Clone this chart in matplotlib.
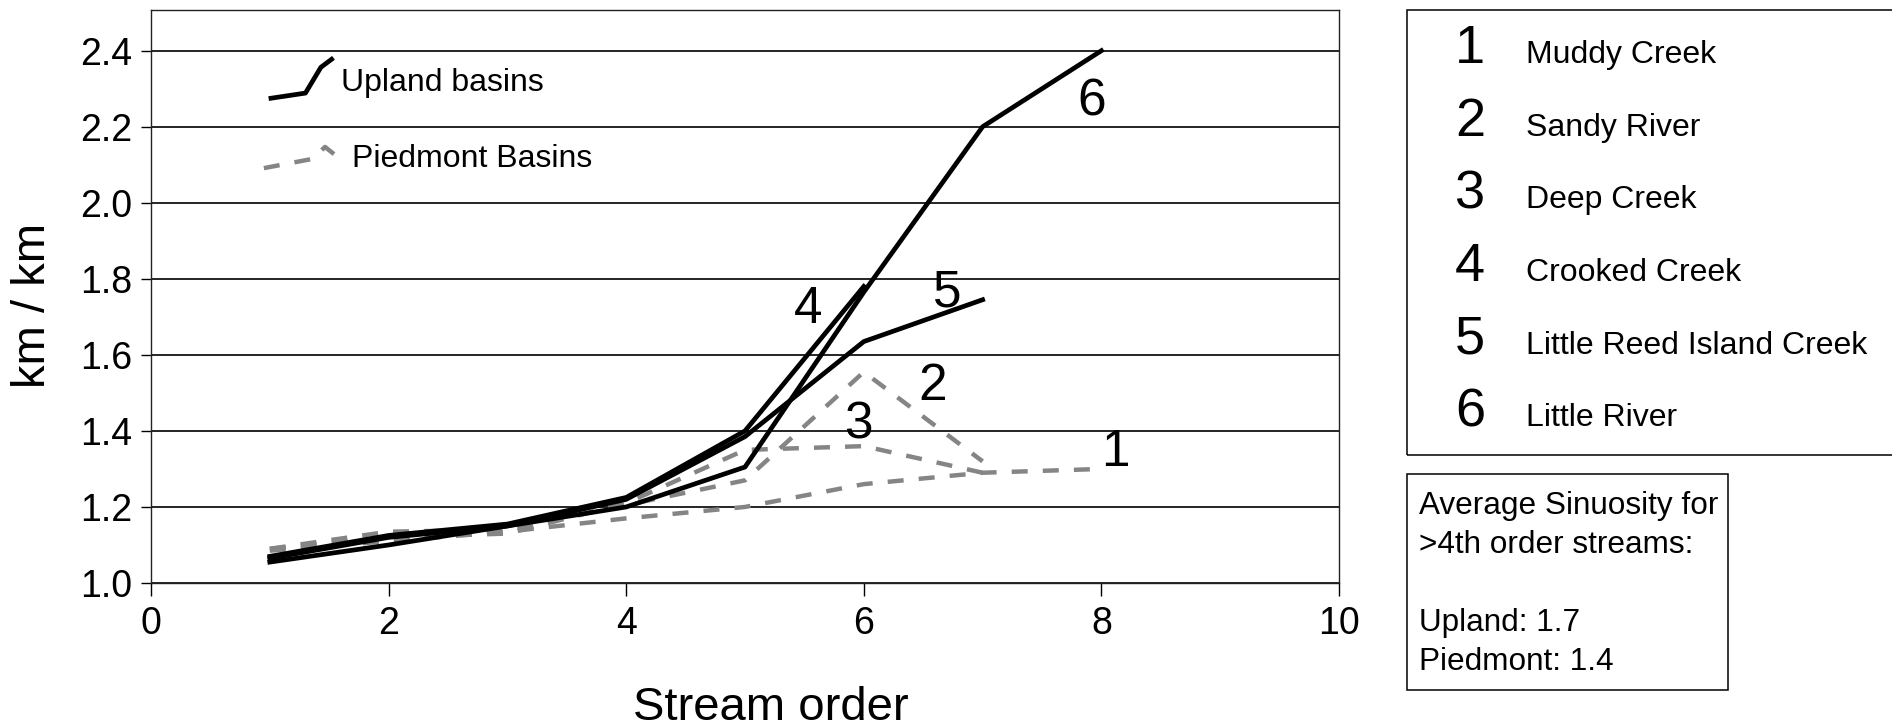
import matplotlib
matplotlib.use("Agg")
import matplotlib.pyplot as plt
from matplotlib.patches import Rectangle

plt.rcParams['font.family'] = ['Liberation Sans', 'DejaVu Sans']

# sinuosity (km / km) by stream order for each basin
orders = [1, 2, 3, 4, 5, 6, 7, 8]
muddy_creek = [1.085, 1.11, 1.135, 1.17, 1.20, 1.26, 1.29, 1.30]
sandy_river = [1.09, 1.135, 1.14, 1.205, 1.27, 1.555, 1.32]
deep_creek = [1.09, 1.12, 1.13, 1.21, 1.35, 1.36, 1.29]
crooked_creek = [1.07, 1.125, 1.155, 1.225, 1.40, 1.78]
little_reed = [1.065, 1.12, 1.15, 1.22, 1.385, 1.635, 1.745]
little_river = [1.055, 1.10, 1.15, 1.20, 1.305, 1.765, 2.20, 2.40]

piedmont = [muddy_creek, sandy_river, deep_creek]
upland = [crooked_creek, little_reed, little_river]

basin_names = ['Muddy Creek', 'Sandy River', 'Deep Creek', 'Crooked Creek',
               'Little Reed Island Creek', 'Little River']
avg_lines = ['Average Sinuosity for', '>4th order streams:', '',
             'Upland: 1.7', 'Piedmont: 1.4']

# where the basin numbers sit on the chart (data coords)
num_pos = [(8.12, 1.343), (6.58, 1.518), (5.95, 1.416),
           (5.53, 1.718), (6.70, 1.763), (7.92, 2.264)]

# little key glyphs drawn in axes fraction
key_up_x = [0.101, 0.130, 0.143, 0.152]
key_up_y = [0.846, 0.855, 0.900, 0.914]
key_pd_x = [0.095, 0.1355, 0.1465, 0.155]
key_pd_y = [0.724, 0.740, 0.761, 0.747]

W, H = 1892, 727
fig = plt.figure(figsize=(W / 100, H / 100), dpi=100)
ax = fig.add_axes([151 / W, 1 - 583 / H, (1339 - 151) / W, (583 - 10) / H])

gray = '#858585'
dash = (3.6, 3.4)
for ys in piedmont:
    ax.plot(orders[:len(ys)], ys, color=gray, lw=3.2, dashes=dash, zorder=3)
for ys in upland:
    ax.plot(orders[:len(ys)], ys, color='black', lw=3.4, zorder=4)

for i, (px, py) in enumerate(num_pos):
    ax.text(px, py, str(i + 1), fontsize=37, ha='center', va='center', zorder=5)

# key
ax.plot(key_up_x, key_up_y, color='black', lw=3.4, transform=ax.transAxes)
ax.plot(key_pd_x, key_pd_y, color=gray, lw=3.2, dashes=dash, transform=ax.transAxes)
ax.text(0.160, 0.873, 'Upland basins', fontsize=23, va='center', transform=ax.transAxes)
ax.text(0.169, 0.740, 'Piedmont Basins', fontsize=23, va='center', transform=ax.transAxes)

ax.set_xlim(0, 10)
ax.set_ylim(1.0, 2.507)
ax.set_xticks([0, 2, 4, 6, 8, 10])
ax.set_yticks([1.0, 1.2, 1.4, 1.6, 1.8, 2.0, 2.2, 2.4])
ax.set_yticklabels(['%.1f' % v for v in ax.get_yticks()])
ax.tick_params(axis='y', labelsize=27, length=7.2, width=1.0, pad=6)
ax.tick_params(axis='x', labelsize=27, length=9.5, width=1.0, pad=7)
ax.grid(axis='y', color='black', lw=1.2)
ax.set_axisbelow(True)
for s in ax.spines.values():
    s.set_linewidth(1.0)
    s.set_color('#222222')

ax.set_xlabel('Stream order', fontsize=34, va='baseline')
ax.xaxis.set_label_coords(0.522, -0.239)
ax.set_ylabel('km / km', fontsize=34, va='center', rotation_mode='default')
ax.yaxis.set_label_coords(-0.0995, 0.484)

# basin key box (runs off the right edge)
fig.patches.append(Rectangle((1407 / W, 1 - 455 / H), 0.4, (455 - 10) / H,
                             transform=fig.transFigure, fill=False,
                             edgecolor='black', lw=1.1))
for i, name in enumerate(basin_names):
    yb = 1 - (63 + 72.7 * i) / H
    fig.text(1470 / W, yb, str(i + 1), fontsize=39, ha='center', va='baseline')
    fig.text(1526 / W, yb, name, fontsize=23, ha='left', va='baseline')

# average sinuosity box
fig.patches.append(Rectangle((1407 / W, 1 - 690 / H), (1728 - 1407) / W, (690 - 474) / H,
                             transform=fig.transFigure, fill=False,
                             edgecolor='black', lw=1.1))
for i, line in enumerate(avg_lines):
    fig.text(1419 / W, 1 - (514 + 39 * i) / H, line, fontsize=22.7, ha='left', va='baseline')

fig.savefig('out.png', dpi=100)
